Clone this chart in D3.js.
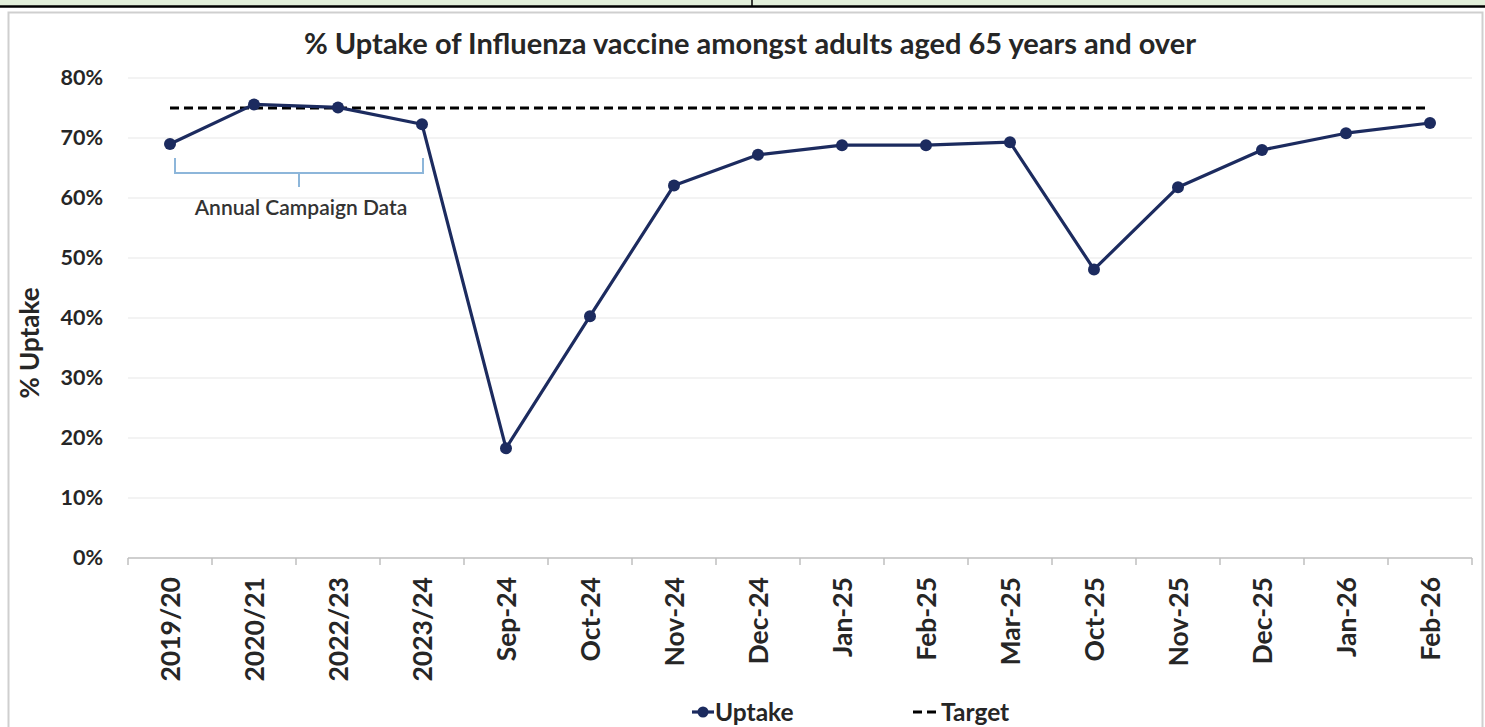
<!DOCTYPE html>
<html>
<head>
<meta charset="utf-8">
<script src="https://cdn.jsdelivr.net/npm/d3@7"></script>
<style>
  html, body { margin: 0; padding: 0; background: #ffffff; }
  svg { display: block; }
  text { font-family: "Lato", "Open Sans", sans-serif; }
</style>
</head>
<body>
<svg id="chart" width="1485" height="727"></svg>
<script>
// Reporting periods: four annual campaigns followed by monthly cumulative figures
const categories = ["2019/20", "2020/21", "2022/23", "2023/24", "Sep-24", "Oct-24", "Nov-24",
  "Dec-24", "Jan-25", "Feb-25", "Mar-25", "Oct-25", "Nov-25", "Dec-25", "Jan-26", "Feb-26"];

// % uptake of influenza vaccine, adults aged 65+
const uptake = [69.0, 75.6, 75.1, 72.3, 18.3, 40.3, 62.1, 67.2, 68.8, 68.8, 69.3, 48.1, 61.8, 68.0, 70.8, 72.5];

// National uptake target (%)
const target = [75, 75, 75, 75, 75, 75, 75, 75, 75, 75, 75, 75, 75, 75, 75, 75];

const yTicks = [0, 10, 20, 30, 40, 50, 60, 70, 80];

const titleText = "% Uptake of Influenza vaccine amongst adults aged 65 years and over";
const annotationText = "Annual Campaign Data";
const annualCount = 4;

const navy = "#1c2b5f";
const svg = d3.select("#chart");
const W = 1485, H = 727;

// Document strip above the chart (table cell edge)
svg.append("rect").attr("x", 0).attr("y", 0).attr("width", W).attr("height", 6).attr("fill", "#e2efda");
svg.append("line").attr("x1", 0).attr("x2", W).attr("y1", 6.5).attr("y2", 6.5)
  .attr("stroke", "#000").attr("stroke-width", 2.5);
svg.append("line").attr("x1", 752).attr("x2", 752).attr("y1", 0).attr("y2", 6)
  .attr("stroke", "#000").attr("stroke-width", 1.5);

// Chart area border
svg.append("rect").attr("x", 8.5).attr("y", 12.5).attr("width", 1474).attr("height", 730)
  .attr("fill", "#fff").attr("stroke", "#cfcfcf").attr("stroke-width", 2);

const plot = { left: 128, right: 1472, top: 78, bottom: 558 };

const x = d3.scaleBand().domain(categories).range([plot.left, plot.right]).paddingInner(0).paddingOuter(0);
const y = d3.scaleLinear().domain([0, 80]).range([plot.bottom, plot.top]);
const cx = d => x(d) + x.bandwidth() / 2;

// Title
svg.append("text").attr("x", 750).attr("y", 54).attr("text-anchor", "middle")
  .attr("font-size", 29).attr("font-weight", 700).attr("fill", "#262626").text(titleText);

// Horizontal gridlines
svg.append("g").selectAll("line").data(yTicks.filter(t => t > 0)).join("line")
  .attr("x1", plot.left).attr("x2", plot.right)
  .attr("y1", d => y(d)).attr("y2", d => y(d))
  .attr("stroke", "#efefef").attr("stroke-width", 1.5);

// Y axis labels
const yAxis = d3.axisLeft(y).tickValues(yTicks).tickFormat(d => d + "%").tickSize(0).tickPadding(0);
const gy = svg.append("g").attr("transform", `translate(${plot.left - 25},0)`).call(yAxis);
gy.select(".domain").remove();
gy.selectAll("text").attr("font-size", 21.5).attr("font-weight", 700).attr("fill", "#262626")
  .attr("font-family", "Lato, 'Open Sans', sans-serif");

// Y axis title
svg.append("text").attr("transform", "translate(30,343) rotate(-90)").attr("text-anchor", "middle")
  .attr("dy", "0.36em")
  .attr("font-size", 26).attr("font-weight", 700).attr("fill", "#262626").text("% Uptake");

// X axis: baseline with tick marks at category boundaries
const gx = svg.append("g").attr("transform", `translate(0,${plot.bottom})`);
gx.append("line").attr("x1", plot.left).attr("x2", plot.right).attr("y1", 0).attr("y2", 0)
  .attr("stroke", "#bfbfbf").attr("stroke-width", 1.5);
const boundaries = categories.map(c => x(c)).concat([plot.right]);
gx.selectAll("line.tick").data(boundaries).join("line").attr("class", "tick")
  .attr("x1", d => d).attr("x2", d => d).attr("y1", 0).attr("y2", 7)
  .attr("stroke", "#bfbfbf").attr("stroke-width", 1.5);
gx.selectAll("text").data(categories).join("text")
  .attr("transform", d => `translate(${cx(d)},${19}) rotate(-90)`)
  .attr("text-anchor", "end").attr("dy", "0.36em")
  .attr("font-size", 26.5).attr("font-weight", 700).attr("fill", "#262626").text(d => d);

// Target (dashed)
const line = d3.line().x((d, i) => cx(categories[i])).y(d => y(d));
svg.append("path").datum(target).attr("d", line).attr("fill", "none")
  .attr("stroke", "#000").attr("stroke-width", 3).attr("stroke-dasharray", "9,5");

// Uptake line and markers
svg.append("path").datum(uptake).attr("d", line).attr("fill", "none")
  .attr("stroke", navy).attr("stroke-width", 3.2).attr("stroke-linejoin", "round");
svg.append("g").selectAll("circle").data(uptake).join("circle")
  .attr("cx", (d, i) => cx(categories[i])).attr("cy", d => y(d)).attr("r", 6).attr("fill", navy);

// Bracket spanning the annual campaign points
const bx0 = cx(categories[0]) + 5, bx1 = cx(categories[annualCount - 1]) + 1;
const bTop = y(uptake[0]) + 14, bBot = bTop + 15, bMid = (bx0 + bx1) / 2;
svg.append("path")
  .attr("d", `M${bx0},${bTop}V${bBot}H${bx1}V${bTop}M${bMid},${bBot}V${bBot + 14}`)
  .attr("fill", "none").attr("stroke", "#8db6da").attr("stroke-width", 2);
svg.append("text").attr("x", bMid + 2).attr("y", bBot + 42).attr("text-anchor", "middle")
  .attr("font-size", 21).attr("font-weight", 600).attr("fill", "#333").text(annotationText);

// Legend
const lg = svg.append("g").attr("transform", "translate(0,712)");
lg.append("line").attr("x1", 692).attr("x2", 714).attr("y1", 0).attr("y2", 0)
  .attr("stroke", navy).attr("stroke-width", 3.2);
lg.append("circle").attr("cx", 703).attr("cy", 0).attr("r", 5.5).attr("fill", navy);
lg.append("text").attr("x", 715).attr("y", 0).attr("dy", "0.36em")
  .attr("font-size", 24.5).attr("font-weight", 700).attr("fill", "#262626").text("Uptake");
lg.append("line").attr("x1", 913).attr("x2", 940).attr("y1", 0).attr("y2", 0)
  .attr("stroke", "#000").attr("stroke-width", 3).attr("stroke-dasharray", "9,5");
lg.append("text").attr("x", 941).attr("y", 0).attr("dy", "0.36em")
  .attr("font-size", 24.5).attr("font-weight", 700).attr("fill", "#262626").text("Target");
</script>
</body>
</html>
